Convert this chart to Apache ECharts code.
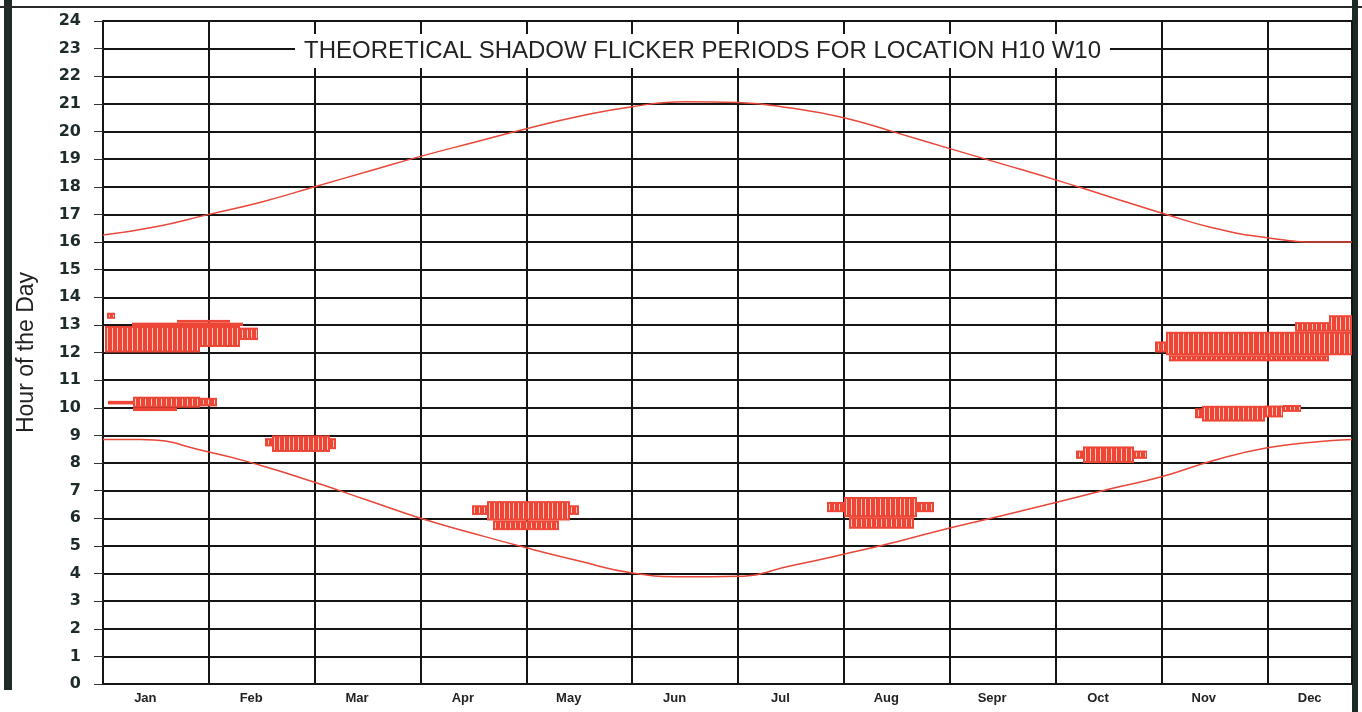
<!DOCTYPE html>
<html>
<head>
<meta charset="utf-8">
<title>Theoretical shadow flicker periods</title>
<script src="https://cdn.jsdelivr.net/npm/echarts@6/dist/echarts.min.js"></script>
<style>
  html, body { margin: 0; padding: 0; background: #fff; }
  #main { width: 1362px; height: 712px; }
</style>
</head>
<body>
<div id="main"></div>
<script>
// month names under the axis (x is in months, 0 = 1 Jan)
var monthNames = ['Jan', 'Feb', 'Mar', 'Apr', 'May', 'Jun', 'Jul', 'Aug', 'Sepr', 'Oct', 'Nov', 'Dec'];

// sunset / sunrise curves [month, hour]
var sunsetPts = [
  [0, 16.25], [0.5, 16.55], [1, 17.0], [1.5, 17.45], [2, 18.0], [2.5, 18.55],
  [3, 19.1], [3.5, 19.6], [4, 20.1], [4.5, 20.55], [5, 20.9], [5.5, 21.08],
  [6, 21.05], [6.5, 20.85], [7, 20.5], [7.5, 19.95], [8, 19.38], [8.5, 18.82],
  [9, 18.25], [9.5, 17.65], [10, 17.05], [10.5, 16.5], [11, 16.15], [11.5, 16.0], [11.8, 16.0]
];
var sunrisePts = [
  [0, 8.85], [0.35, 8.85], [1, 8.4], [1.5, 7.9], [2, 7.3], [2.5, 6.65],
  [3, 6.0], [3.5, 5.45], [4, 4.93], [4.5, 4.45], [5, 4.02], [5.5, 3.88],
  [6, 3.9], [6.5, 4.28], [7, 4.7], [7.5, 5.15], [8, 5.65], [8.5, 6.1],
  [9, 6.57], [9.5, 7.05], [10, 7.5], [10.5, 8.1], [11, 8.55], [11.5, 8.78], [11.8, 8.85]
];

// flicker periods: [fromMonth, toMonth, fromHour, toHour]
var janUpper = [
  [0.04, 0.11, 13.22, 13.44],
  [0.02, 0.92, 12.0, 12.96],
  [0.92, 1.29, 12.2, 12.96],
  [0.27, 1.32, 12.96, 13.08],
  [0.70, 1.20, 13.08, 13.18],
  [1.29, 1.46, 12.45, 12.9]
];
var janLower = [
  [0.05, 0.28, 10.12, 10.25],
  [0.28, 0.92, 10.0, 10.4],
  [0.28, 0.70, 9.88, 10.0],
  [0.92, 1.08, 10.05, 10.36]
];
var febMar = [
  [1.53, 1.60, 8.6, 8.9],
  [1.60, 2.14, 8.4, 9.0],
  [2.14, 2.20, 8.5, 8.9]
];
var mayBlock = [
  [3.49, 4.50, 6.12, 6.47],
  [3.63, 4.41, 5.92, 6.62],
  [3.68, 4.31, 5.57, 5.92]
];
var augBlock = [
  [6.84, 7.85, 6.22, 6.59],
  [7.0, 7.69, 6.04, 6.77],
  [7.05, 7.66, 5.62, 6.04]
];
var octBlock = [
  [9.19, 9.26, 8.15, 8.45],
  [9.26, 9.74, 8.0, 8.6],
  [9.74, 9.86, 8.15, 8.45]
];
var novLower = [
  [10.32, 10.38, 9.62, 9.98],
  [10.38, 10.98, 9.5, 10.07],
  [10.98, 11.15, 9.65, 10.08],
  [11.15, 11.32, 9.85, 10.1]
];
var novDecUpper = [
  [9.94, 10.04, 12.0, 12.4],
  [10.04, 11.8, 11.9, 12.75],
  [10.07, 11.58, 11.68, 11.9],
  [11.26, 11.58, 12.75, 13.1],
  [11.58, 11.8, 12.75, 13.35]
];

var flicker = [].concat(janUpper, janLower, febMar, mayBlock, augBlock, octBlock, novLower, novDecUpper);

// each period is drawn as a row of narrow striped columns, like the print
function renderBlock(params, api) {
  var p0 = api.coord([api.value(0), api.value(3)]);
  var p1 = api.coord([api.value(1), api.value(2)]);
  var x0 = Math.round(p0[0]);
  var w = Math.round(p1[0]) - x0;
  var h = p1[1] - p0[1];
  var n = Math.max(1, Math.round(w / 5));
  var kids = [];
  for (var i = 0; i < n; i++) {
    var xa = x0 + Math.round(i * w / n);
    var xb = x0 + Math.round((i + 1) * w / n);
    kids.push({
      type: 'rect',
      shape: { x: xa, y: p0[1], width: xb - xa, height: h },
      style: { fill: '#ee4636' }
    });
    if (h > 5 && xb - xa > 3) {
      kids.push({
        type: 'rect',
        shape: { x: xa + Math.floor((xb - xa) / 2), y: p0[1] + 2, width: 1, height: h - 4 },
        style: { fill: '#ffc8bc' }
      });
    }
  }
  return { type: 'group', children: kids };
}

var myChart = echarts.init(document.getElementById('main'));

var option = {
  backgroundColor: '#ffffff',
  animation: false,
  title: {
    text: 'THEORETICAL SHADOW FLICKER PERIODS FOR LOCATION H10 W10',
    left: 295,
    top: 34,
    backgroundColor: '#ffffff',
    padding: [5, 9],
    textStyle: {
      fontFamily: 'Liberation Sans',
      fontWeight: 'normal',
      fontSize: 24,
      color: '#222'
    }
  },
  grid: { left: 103, right: 10, top: 21, bottom: 28 },
  xAxis: [
    {
      type: 'value',
      min: 0,
      max: 11.8,
      interval: 1,
      position: 'bottom',
      axisLine: { lineStyle: { color: '#151515', width: 2 } },
      axisTick: { show: false },
      axisLabel: { show: false },
      splitLine: { show: true, lineStyle: { color: '#151515', width: 2 } }
    },
    {
      type: 'value',
      min: 0,
      max: 11.8,
      interval: 0.2,
      position: 'bottom',
      axisLine: { show: false },
      axisTick: { show: false },
      splitLine: { show: false },
      axisLabel: {
        interval: 0,
        margin: 8,
        color: '#222',
        fontFamily: 'Liberation Sans',
        fontWeight: 'bold',
        fontSize: 13,
        formatter: function (v) {
          var f = v - Math.floor(v + 1e-6);
          return Math.abs(f - 0.4) < 1e-6 ? monthNames[Math.floor(v + 1e-6)] : '';
        }
      }
    }
  ],
  yAxis: {
    type: 'value',
    min: 0,
    max: 24,
    interval: 1,
    name: 'Hour of the Day',
    nameLocation: 'middle',
    nameGap: 65,
    nameTextStyle: { fontFamily: 'Liberation Sans', fontSize: 23, color: '#222' },
    axisLine: { show: true, lineStyle: { color: '#151515', width: 2 } },
    axisTick: { show: true, length: 9, lineStyle: { color: '#333', width: 1 } },
    axisLabel: {
      margin: 22,
      color: '#1d2b2b',
      fontFamily: 'DejaVu Sans',
      fontWeight: 'bold',
      fontSize: 16
    },
    splitLine: { show: true, lineStyle: { color: '#151515', width: 2 } }
  },
  series: [
    {
      name: 'sunset',
      type: 'line',
      xAxisIndex: 0,
      data: sunsetPts,
      smooth: true,
      symbol: 'none',
      lineStyle: { color: '#e8473a', width: 1.5 },
      z: 3
    },
    {
      name: 'sunrise',
      type: 'line',
      xAxisIndex: 0,
      data: sunrisePts,
      smooth: true,
      symbol: 'none',
      lineStyle: { color: '#e8473a', width: 1.5 },
      z: 3
    },
    {
      name: 'flicker',
      type: 'custom',
      xAxisIndex: 0,
      renderItem: renderBlock,
      data: flicker,
      clip: true,
      z: 4
    }
  ],
  graphic: [
    // scanned page frame
    { type: 'rect', left: 4, top: 0, shape: { width: 8, height: 690 }, style: { fill: '#1e2a25' } },
    { type: 'rect', left: 0, top: 6, shape: { width: 1362, height: 2 }, style: { fill: '#2a2a2a' } },
    { type: 'rect', left: 1352, top: 0, shape: { width: 6, height: 712 }, style: { fill: '#1e2a25' } }
  ]
};
myChart.setOption(option);
</script>
</body>
</html>
